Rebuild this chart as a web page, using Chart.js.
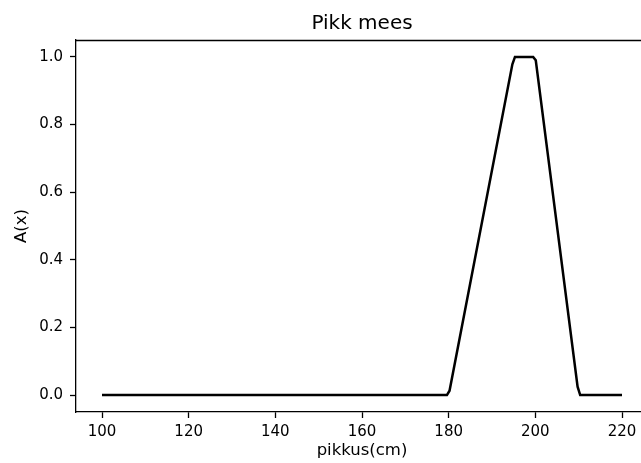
<!DOCTYPE html>
<html>
<head>
<meta charset="utf-8">
<title>Pikk mees</title>
<script src="https://cdn.jsdelivr.net/npm/chart.js@4.4.1/dist/chart.umd.min.js"></script>
<style>
    html, body { margin: 0; padding: 0; background: #fff; overflow: hidden; }
    #wrap { position: absolute; left: 0; top: 0; width: 680px; height: 463px; }
</style>
</head>
<body>
<div id="wrap"><canvas id="myChart" width="680" height="463"></canvas></div>
<script>
// corner points of the membership curve
const heights = [100, 179.6, 180.2, 194.7, 195.3, 199.5, 200.1, 209.75, 210.35, 220];
const membership = [0, 0, 0.013, 0.978, 1, 1, 0.99, 0.025, 0, 0];

const xTicks = [100, 120, 140, 160, 180, 200, 220];
const yTicks = [0, 0.2, 0.4, 0.6, 0.8, 1.0];

const points = heights.map((h, i) => ({ x: h, y: membership[i] }));

// top and right spines
const frame = {
    id: 'frame',
    afterDraw(chart) {
        const { ctx, chartArea: a } = chart;
        ctx.save();
        ctx.strokeStyle = '#000';
        ctx.lineWidth = 1.3;
        ctx.beginPath();
        ctx.moveTo(a.left, a.top + 0.5);
        ctx.lineTo(a.right, a.top + 0.5);
        ctx.lineTo(a.right, a.bottom);
        ctx.stroke();
        ctx.restore();
    }
};

const tickFont = { family: 'DejaVu Sans', size: 15 };
const labelFont = { family: 'DejaVu Sans', size: 16.5 };

const ctx = document.getElementById('myChart');
const myChart = new Chart(ctx, {
    type: 'line',
    data: {
        datasets: [{
            data: points,
            borderColor: '#000',
            borderWidth: 2.5,
            pointRadius: 0,
            tension: 0,
            fill: false
        }]
    },
    plugins: [frame],
    options: {
        responsive: false,
        animation: false,
        layout: { padding: { left: 0, right: 32, top: 0, bottom: 0 } },
        plugins: {
            legend: { display: false },
            tooltip: { enabled: false },
            title: {
                display: true,
                text: 'Pikk mees',
                fullSize: false,
                color: '#000',
                font: { family: 'DejaVu Sans', size: 20, weight: 'normal' },
                padding: { top: 12, bottom: 4 }
            }
        },
        scales: {
            x: {
                type: 'linear',
                min: 94,
                max: 226,
                afterBuildTicks: s => { s.ticks = xTicks.map(v => ({ value: v })); },
                afterFit: s => { s.height = 51; },
                grid: { drawOnChartArea: false, drawTicks: true, tickLength: 6, tickColor: '#000', tickWidth: 1.3 },
                border: { color: '#000', width: 1.3 },
                ticks: { color: '#000', font: tickFont, padding: 5, maxRotation: 0 },
                title: { display: true, text: 'pikkus(cm)', color: '#000', font: labelFont, padding: { top: 0, bottom: 2 } }
            },
            y: {
                min: -0.05,
                max: 1.05,
                afterBuildTicks: s => { s.ticks = yTicks.map(v => ({ value: v })); },
                afterFit: s => { s.width = 76; },
                grid: { drawOnChartArea: false, drawTicks: true, tickLength: 6, tickColor: '#000', tickWidth: 1.3 },
                border: { color: '#000', width: 1.3 },
                ticks: { color: '#000', font: tickFont, padding: 7, callback: v => v.toFixed(1) },
                title: { display: true, text: 'A(x)', color: '#000', font: labelFont, padding: { top: 12, bottom: 0 } }
            }
        }
    }
});
</script>
</body>
</html>
